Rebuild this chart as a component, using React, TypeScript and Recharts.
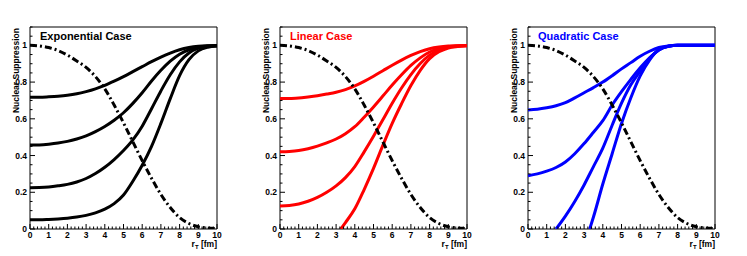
import React from 'react'
import { LineChart, Line, XAxis, YAxis, ReferenceArea } from 'recharts'

// r_T grid [fm]
const rAll = [0, 0.5, 1, 1.5, 2, 2.5, 3, 3.5, 4, 4.5, 5, 5.5, 6, 6.5, 7, 7.5, 8, 8.5, 9, 9.5, 10]

// dash-dotted profile (same in every panel)
const profile = [1.0, 0.997, 0.988, 0.972, 0.947, 0.915, 0.88, 0.83, 0.763, 0.675, 0.578, 0.475, 0.372, 0.276, 0.188, 0.117, 0.062, 0.03, 0.012, 0.005, 0.002]

// Exponential case
const exp1 = [0.718, 0.718, 0.72, 0.723, 0.728, 0.736, 0.748, 0.763, 0.782, 0.805, 0.83, 0.857, 0.884, 0.911, 0.936, 0.958, 0.976, 0.988, 0.995, 0.998, 0.999]
const exp2 = [0.457, 0.458, 0.462, 0.468, 0.477, 0.49, 0.507, 0.53, 0.558, 0.592, 0.633, 0.684, 0.742, 0.806, 0.864, 0.914, 0.952, 0.976, 0.99, 0.996, 0.998]
const exp3 = [0.225, 0.226, 0.229, 0.235, 0.243, 0.256, 0.275, 0.302, 0.336, 0.378, 0.427, 0.485, 0.56, 0.655, 0.752, 0.84, 0.91, 0.958, 0.985, 0.995, 0.998]
const exp4 = [0.05, 0.05, 0.052, 0.055, 0.059, 0.065, 0.074, 0.088, 0.108, 0.138, 0.185, 0.26, 0.347, 0.45, 0.575, 0.71, 0.835, 0.922, 0.97, 0.99, 0.997]

// Linear case
const lin1 = [0.71, 0.711, 0.713, 0.719, 0.726, 0.735, 0.745, 0.759, 0.779, 0.804, 0.832, 0.862, 0.892, 0.92, 0.945, 0.966, 0.982, 0.991, 0.996, 0.998, 0.999]
const lin2 = [0.42, 0.422, 0.427, 0.437, 0.451, 0.469, 0.49, 0.519, 0.557, 0.609, 0.665, 0.724, 0.784, 0.84, 0.891, 0.932, 0.964, 0.983, 0.993, 0.997, 0.999]
const lin3 = [0.125, 0.128, 0.136, 0.151, 0.172, 0.2, 0.235, 0.28, 0.34, 0.42, 0.505, 0.595, 0.685, 0.768, 0.841, 0.901, 0.947, 0.974, 0.99, 0.996, 0.998]
const rLin4 = [3.25, 3.5, 4, 4.5, 5, 5.5, 6, 6.5, 7, 7.5, 8, 8.5, 9, 9.5, 10]
const lin4 = [0, 0.035, 0.11, 0.215, 0.33, 0.455, 0.575, 0.682, 0.781, 0.864, 0.928, 0.965, 0.986, 0.994, 0.998]

// Quadratic case
const quad1 = [0.648, 0.652, 0.66, 0.671, 0.688, 0.714, 0.742, 0.77, 0.8, 0.835, 0.872, 0.906, 0.941, 0.968, 0.988, 0.997, 1, 1, 1, 1, 1]
const quad2 = [0.29, 0.3, 0.315, 0.335, 0.365, 0.41, 0.465, 0.527, 0.59, 0.675, 0.748, 0.815, 0.878, 0.932, 0.975, 0.995, 1, 1, 1, 1, 1]
const rQuad3 = [1.5, 2, 2.5, 3, 3.5, 4, 4.5, 5, 5.5, 6, 6.5, 7, 7.5, 8, 8.5, 9, 9.5, 10]
const quad3 = [0, 0.07, 0.15, 0.24, 0.34, 0.44, 0.565, 0.685, 0.785, 0.86, 0.93, 0.975, 0.995, 1, 1, 1, 1, 1]
const rQuad4 = [3.3, 3.5, 4, 4.5, 5, 5.5, 6, 6.5, 7, 7.5, 8, 8.5, 9, 9.5, 10]
const quad4 = [0, 0.065, 0.245, 0.41, 0.575, 0.715, 0.834, 0.92, 0.977, 0.995, 1, 1, 1, 1, 1]

const xLabels = [0, 1, 2, 3, 4, 5, 6, 7, 8, 9, 10]
const yLabels = [0, 0.2, 0.4, 0.6, 0.8, 1]

const pts = (rs: number[], vs: number[]) => rs.map((r, i) => ({ r, v: vs[i] }))

// minor ticks every 0.2 on x, 0.05 on y
const xTicks = Array.from({ length: 51 }, (_, i) => Math.round(i * 2) / 10)
const yTicks = Array.from({ length: 23 }, (_, i) => Math.round(i * 5) / 100)

const FONT = '"Liberation Sans", Arial, sans-serif'

const isMajor = (v: number, labels: number[]) => labels.some((l) => Math.abs(l - v) < 1e-6)

function XTick({ x, y, payload }: any) {
  const major = isMajor(payload.value, xLabels)
  return (
    <g>
      <line x1={x} x2={x} y1={y} y2={y - (major ? 5 : 2.5)} stroke="#000" strokeWidth={1} />
      {major && (
        <text x={x} y={y + 9} textAnchor="middle" fontSize={8.5} fontWeight="bold" fontFamily={FONT} fill="#000">
          {payload.value}
        </text>
      )}
    </g>
  )
}

function YTick({ x, y, payload }: any) {
  const major = isMajor(payload.value, yLabels)
  return (
    <g>
      <line x1={x} x2={x + (major ? 5 : 2.5)} y1={y} y2={y} stroke="#000" strokeWidth={1} />
      {major && (
        <text x={x - 3} y={y + 3} textAnchor="end" fontSize={8.5} fontWeight="bold" fontFamily={FONT} fill="#000">
          {payload.value}
        </text>
      )}
    </g>
  )
}

interface Series {
  data: { r: number; v: number }[]
}

interface PanelProps {
  left: number
  title: string
  color: string
  curves: Series[]
}

function Panel({ left, title, color, curves }: PanelProps) {
  return (
    <div style={{ position: 'absolute', left, top: 0 }}>
      <LineChart width={249} height={256} margin={{ top: 27, right: 32, bottom: 0, left: 0 }}>
        <XAxis
          type="number"
          dataKey="r"
          domain={[0, 10]}
          ticks={xTicks}
          interval={0}
          height={27}
          tickSize={0}
          tickMargin={0}
          axisLine={false}
          tickLine={false}
          tick={<XTick />}
          allowDataOverflow
        />
        <YAxis
          type="number"
          dataKey="v"
          domain={[0, 1.1]}
          ticks={yTicks}
          interval={0}
          width={30}
          tickSize={0}
          tickMargin={0}
          axisLine={false}
          tickLine={false}
          tick={<YTick />}
          allowDataOverflow
        />
        <ReferenceArea x1={0} x2={10} y1={0} y2={1.1} fill="none" stroke="#000" strokeWidth={1} fillOpacity={0} />
        {curves.map((c, i) => (
          <Line
            key={i}
            data={c.data}
            dataKey="v"
            type="monotone"
            stroke={color}
            strokeWidth={3}
            dot={false}
            isAnimationActive={false}
          />
        ))}
        <Line
          data={pts(rAll, profile)}
          dataKey="v"
          type="monotone"
          stroke="#000"
          strokeWidth={3}
          strokeDasharray="7 3 2 3"
          dot={false}
          isAnimationActive={false}
        />
        <text x={40} y={40} fontSize={11} fontWeight="bold" fontFamily={FONT} fill={color}>
          {title}
        </text>
        <text
          x={18.5}
          y={28}
          transform="rotate(-90, 18.5, 28)"
          textAnchor="end"
          fontSize={8.5}
          fontWeight="bold"
          fontFamily={FONT}
          fill="#000"
        >
          Nuclear Suppression
        </text>
        <text x={217} y={247} textAnchor="end" fontSize={8.5} fontWeight="bold" fontFamily={FONT} fill="#000">
          r<tspan fontSize={6} dy={2}>T</tspan>
          <tspan dy={-2}> [fm]</tspan>
        </text>
      </LineChart>
    </div>
  )
}

export default function App() {
  return (
    <div style={{ position: 'absolute', left: 0, top: 0, width: 747, height: 256, background: '#fff' }}>
      <Panel
        left={0}
        title="Exponential Case"
        color="#000"
        curves={[exp1, exp2, exp3, exp4].map((vs) => ({ data: pts(rAll, vs) }))}
      />
      <Panel
        left={250}
        title="Linear Case"
        color="#ff0000"
        curves={[
          { data: pts(rAll, lin1) },
          { data: pts(rAll, lin2) },
          { data: pts(rAll, lin3) },
          { data: pts(rLin4, lin4) },
        ]}
      />
      <Panel
        left={498}
        title="Quadratic Case"
        color="#0000ff"
        curves={[
          { data: pts(rAll, quad1) },
          { data: pts(rAll, quad2) },
          { data: pts(rQuad3, quad3) },
          { data: pts(rQuad4, quad4) },
        ]}
      />
    </div>
  )
}
